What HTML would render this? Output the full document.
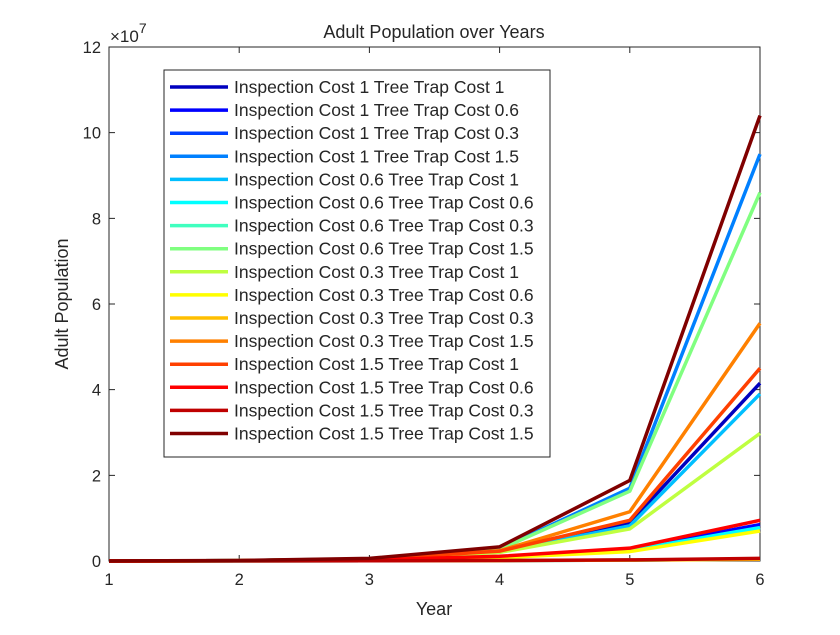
<!DOCTYPE html>
<html><head><meta charset="utf-8"><style>
body{margin:0;background:#fff;}
svg text{font-family:"Liberation Sans",sans-serif;fill:#262626;}
</style></head><body>
<svg id="chart" width="840" height="630" xmlns="http://www.w3.org/2000/svg">
<rect width="840" height="630" fill="#fff"/>
<g id="plot"></g>
</svg>
<script>
const years = [1,2,3,4,5,6];
const seriesNames = ["Inspection Cost 1 Tree Trap Cost 1","Inspection Cost 1 Tree Trap Cost 0.6","Inspection Cost 1 Tree Trap Cost 0.3","Inspection Cost 1 Tree Trap Cost 1.5","Inspection Cost 0.6 Tree Trap Cost 1","Inspection Cost 0.6 Tree Trap Cost 0.6","Inspection Cost 0.6 Tree Trap Cost 0.3","Inspection Cost 0.6 Tree Trap Cost 1.5","Inspection Cost 0.3 Tree Trap Cost 1","Inspection Cost 0.3 Tree Trap Cost 0.6","Inspection Cost 0.3 Tree Trap Cost 0.3","Inspection Cost 0.3 Tree Trap Cost 1.5","Inspection Cost 1.5 Tree Trap Cost 1","Inspection Cost 1.5 Tree Trap Cost 0.6","Inspection Cost 1.5 Tree Trap Cost 0.3","Inspection Cost 1.5 Tree Trap Cost 1.5"];
const seriesColors = ["#0000bf","#0000ff","#0040ff","#0080ff","#00bfff","#00ffff","#40ffbf","#80ff80","#bfff40","#ffff00","#ffbf00","#ff8000","#ff4000","#ff0000","#bf0000","#800000"];
const s1 = [0,0.01,0.04,0.22,0.90,4.15];
const s2 = [0,0.005,0.02,0.10,0.28,0.85];
const s3 = [0,0.002,0.005,0.01,0.02,0.05];
const s4 = [0,0.01,0.05,0.28,1.70,9.50];
const s5 = [0,0.01,0.04,0.21,0.82,3.90];
const s6 = [0,0.005,0.02,0.09,0.25,0.78];
const s7 = [0,0.002,0.005,0.01,0.02,0.05];
const s8 = [0,0.01,0.05,0.27,1.63,8.60];
const s9 = [0,0.01,0.04,0.20,0.75,2.98];
const s10 = [0,0.005,0.02,0.08,0.22,0.70];
const s11 = [0,0.002,0.005,0.01,0.02,0.04];
const s12 = [0,0.01,0.045,0.24,1.15,5.55];
const s13 = [0,0.01,0.045,0.23,0.95,4.50];
const s14 = [0,0.005,0.025,0.11,0.30,0.95];
const s15 = [0,0.002,0.006,0.012,0.025,0.06];
const s16 = [0,0.012,0.06,0.33,1.88,10.40];
const seriesValues = [s1,s2,s3,s4,s5,s6,s7,s8,s9,s10,s11,s12,s13,s14,s15,s16];
const yTicks = [0,2,4,6,8,10,12];
const xTicks = [1,2,3,4,5,6];

const NS="http://www.w3.org/2000/svg";
const L=109,R=760,T=47,B=561;
const xs=v=>L+(v-1)/(6-1)*(R-L);
const ys=v=>B-v/12*(B-T);
const g=document.getElementById('plot');
function mk(tag,attrs,parent){const e=document.createElementNS(NS,tag);for(const k in attrs)e.setAttribute(k,attrs[k]);(parent||g).appendChild(e);return e;}

const frame=mk('rect',{x:L,y:T,width:R-L,height:B-T,fill:'#fff',stroke:'#262626','stroke-width':1});



yTicks.forEach(t=>{
  const y=ys(t);
  const tk=mk('path',{d:`M${L} ${y}h6M${R} ${y}h-6`,stroke:'#262626','stroke-width':1});
  
  
  const tx=mk('text',{x:L-8,y:y+6,'text-anchor':'end','font-size':16.5});
  tx.textContent=t;
  
  
});
xTicks.forEach(t=>{
  const x=xs(t);
  const tk=mk('path',{d:`M${x} ${B}v-6M${x} ${T}v6`,stroke:'#262626','stroke-width':1});
  
  
  const tx=mk('text',{x:x,y:B+24,'text-anchor':'middle','font-size':16.5});
  tx.textContent=t;
  
  
});

seriesValues.forEach((vals,i)=>{
  const d=vals.map((v,j)=>(j?'L':'M')+xs(years[j])+' '+ys(v)).join('');
  const p=mk('path',{d:d,fill:'none',stroke:seriesColors[i],'stroke-width':3.5,'stroke-linejoin':'round'});
  
  
});

const title=mk('text',{x:434,y:38,'text-anchor':'middle','font-size':18});
title.textContent='Adult Population over Years';


const xl=mk('text',{x:434,y:615,'text-anchor':'middle','font-size':18});
xl.textContent='Year';


const yl=mk('text',{x:0,y:0,'text-anchor':'middle','font-size':18,transform:'translate(68 304) rotate(-90)'});
yl.textContent='Adult Population';


const ex=mk('text',{x:110,y:42,'font-size':17});
ex.innerHTML='×10<tspan dy="-9" font-size="14">7</tspan>';



const lg=mk('g',{});


mk('rect',{x:164,y:70,width:386,height:387,fill:'#fff',stroke:'#262626','stroke-width':1},lg);
seriesNames.forEach((n,i)=>{
  const y=87+i*23.1;
  const e=mk('g',{},lg);
  
  
  mk('line',{x1:170,x2:228,y1:y,y2:y,stroke:seriesColors[i],'stroke-width':3.5},e);
  const t=mk('text',{x:234,y:y+6,'font-size':17.5},e);
  t.textContent=n;
});
</script>
</body></html>
